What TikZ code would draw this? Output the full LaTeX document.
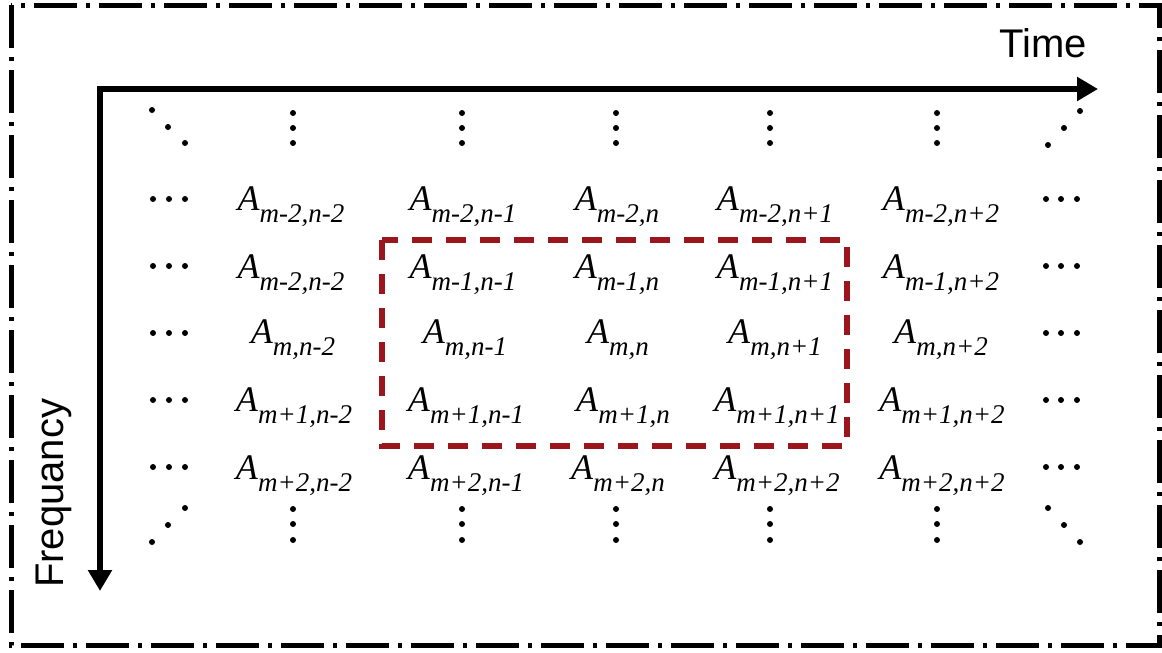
\documentclass[tikz,border=0pt]{standalone}
\usepackage{fontspec}
\setmainfont{Liberation Serif}
\newfontfamily\axisfont{Liberation Sans}
\usetikzlibrary{arrows.meta}
\definecolor{boxred}{RGB}{155,22,28}
\newcommand\Alab[1]{{\fontsize{36}{36}\selectfont\textit{A}}\raisebox{-12pt}{\fontsize{27}{27}\selectfont\textit{#1}}}
\begin{document}
\begin{tikzpicture}[x=1pt,y=-1pt,
  frame/.style={line width=5pt,dash pattern=on 43pt off 9pt on 4pt off 9pt},
  axisline/.style={line width=5.5pt,line join=miter},
  redbox/.style={draw=boxred,line width=6pt,dash pattern=on 20pt off 14pt},
  alabel/.style={anchor=base,inner sep=0pt},
  axislabel/.style={inner sep=0pt,font=\axisfont\fontsize{40}{40}\selectfont},
  dot/.style={radius=3pt}]
\useasboundingbox (0,0) rectangle (1162,653);
% outer dash-dot frame
\draw[frame] (11,5) rectangle (1159,645);
% axes
\coordinate (O) at (100,89);
\coordinate (T) at (1098,89);
\coordinate (F) at (100,591);
\draw[axisline,{Triangle[length=21pt,width=23pt]}-{Triangle[length=21pt,width=23pt]}] (F) -- (O) -- (T);
\node[axislabel,anchor=base west] (time) at (999,57) {Time};
\node[axislabel,anchor=base west,rotate=90] (freq) at (63,588) {Frequancy};
% red dashed window
\draw[redbox] (382,240) rectangle (847,446);
% horizontal ellipses
\foreach \y in {199,266,333,400,467}{
  \foreach \x in {153,169,185,1046,1061,1077}{\fill (\x,\y) circle[dot];}
}
% vertical ellipses
\foreach \x in {293,462,616,770,937}{
  \foreach \y in {113,128,143,509,524,540}{\fill (\x,\y) circle[dot];}
}
% diagonal ellipses
\foreach \p in {(152,110),(168,127),(185,143),(1048,145),(1064,128),(1080,111),
                (152,542),(168,525),(185,508),(1048,508),(1064,525),(1080,542)}{\fill \p circle[dot];}
% labels row 1
\node[alabel] (a11) at (291,210) {\Alab{m-2,n-2}};
\node[alabel] (a12) at (463,210) {\Alab{m-2,n-1}};
\node[alabel] (a13) at (617,210) {\Alab{m-2,n}};
\node[alabel] (a14) at (775,210) {\Alab{m-2,n+1}};
\node[alabel] (a15) at (941,210) {\Alab{m-2,n+2}};
% row 2
\node[alabel] (a21) at (291,278) {\Alab{m-2,n-2}};
\node[alabel] (a22) at (463,278) {\Alab{m-1,n-1}};
\node[alabel] (a23) at (617,278) {\Alab{m-1,n}};
\node[alabel] (a24) at (775,278) {\Alab{m-1,n+1}};
\node[alabel] (a25) at (941,278) {\Alab{m-1,n+2}};
% row 3
\node[alabel] (a31) at (293,343) {\Alab{m,n-2}};
\node[alabel] (a32) at (465,343) {\Alab{m,n-1}};
\node[alabel] (a33) at (618,343) {\Alab{m,n}};
\node[alabel] (a34) at (775,343) {\Alab{m,n+1}};
\node[alabel] (a35) at (941,343) {\Alab{m,n+2}};
% row 4
\node[alabel] (a41) at (294,411) {\Alab{m+1,n-2}};
\node[alabel] (a42) at (466,411) {\Alab{m+1,n-1}};
\node[alabel] (a43) at (623,411) {\Alab{m+1,n}};
\node[alabel] (a44) at (777,411) {\Alab{m+1,n+1}};
\node[alabel] (a45) at (942,411) {\Alab{m+1,n+2}};
% row 5
\node[alabel] (a51) at (294,479) {\Alab{m+2,n-2}};
\node[alabel] (a52) at (466,479) {\Alab{m+2,n-1}};
\node[alabel] (a53) at (618,479) {\Alab{m+2,n}};
\node[alabel] (a54) at (777,479) {\Alab{m+2,n+2}};
\node[alabel] (a55) at (942,479) {\Alab{m+2,n+2}};
\end{tikzpicture}
\end{document}
